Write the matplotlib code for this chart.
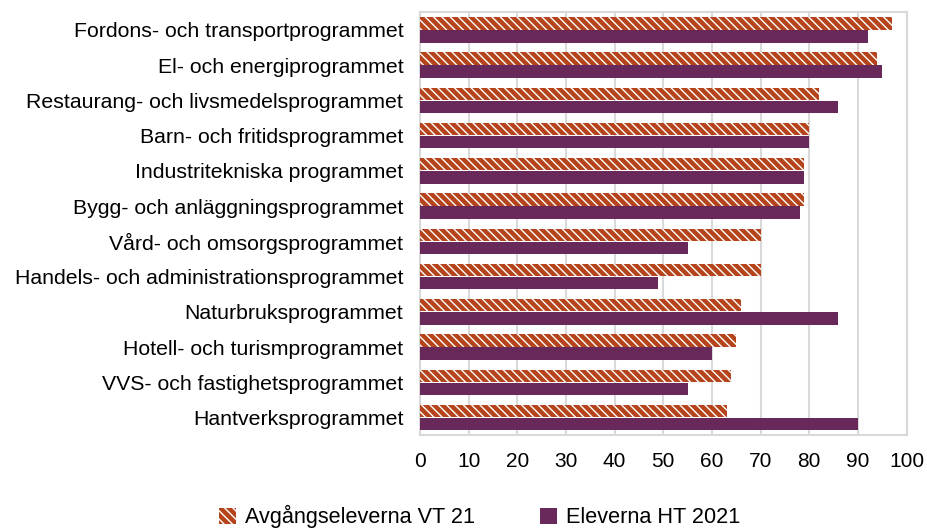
import matplotlib.pyplot as plt
import numpy as np

plt.rcParams['font.family'] = ['Liberation Sans', 'DejaVu Sans']
plt.rcParams['hatch.color'] = 'white'
plt.rcParams['hatch.linewidth'] = 1.0

programs = [
    'Fordons- och transportprogrammet',
    'El- och energiprogrammet',
    'Restaurang- och livsmedelsprogrammet',
    'Barn- och fritidsprogrammet',
    'Industritekniska programmet',
    'Bygg- och anläggningsprogrammet',
    'Vård- och omsorgsprogrammet',
    'Handels- och administrationsprogrammet',
    'Naturbruksprogrammet',
    'Hotell- och turismprogrammet',
    'VVS- och fastighetsprogrammet',
    'Hantverksprogrammet',
]
avgang_vt21 = [97, 94, 82, 80, 79, 79, 70, 70, 66, 65, 64, 63]
elever_ht21 = [92, 95, 86, 80, 79, 78, 55, 49, 86, 60, 55, 90]

orange = '#B5441C'
purple = '#68285A'

fig = plt.figure(figsize=(9.27, 5.32), dpi=100)
ax = fig.add_axes([0.453, 0.182, 0.525, 0.795])

y = np.arange(len(programs))
h = 0.35
ax.barh(y - h / 2 - 0.01, avgang_vt21, height=h, color=orange, hatch='\\\\\\\\',
        linewidth=0, label='Avgångseleverna VT 21', zorder=3)
ax.barh(y + h / 2 + 0.01, elever_ht21, height=h, color=purple,
        linewidth=0, label='Eleverna HT 2021', zorder=3)

ax.set_ylim(len(programs) - 0.5, -0.5)
ax.set_xlim(0, 100)
ax.set_xticks(range(0, 101, 10))
ax.set_yticks(y)
ax.set_yticklabels(programs, fontsize=15.3)
ax.tick_params(axis='x', labelsize=15, length=0, pad=12)
ax.tick_params(axis='y', length=0, pad=12)
ax.grid(axis='x', color='#d9d9d9', linewidth=1.5, zorder=0)
for s in ax.spines.values():
    s.set_color('#d9d9d9')
    s.set_linewidth(1.5)

fig.legend(loc='lower center', ncol=2, frameon=False, fontsize=15.6,
           bbox_to_anchor=(0.517, -0.03), handlelength=0.8, handleheight=0.8,
           handletextpad=0.4, columnspacing=3.0)

fig.savefig('out.png', dpi=100)
